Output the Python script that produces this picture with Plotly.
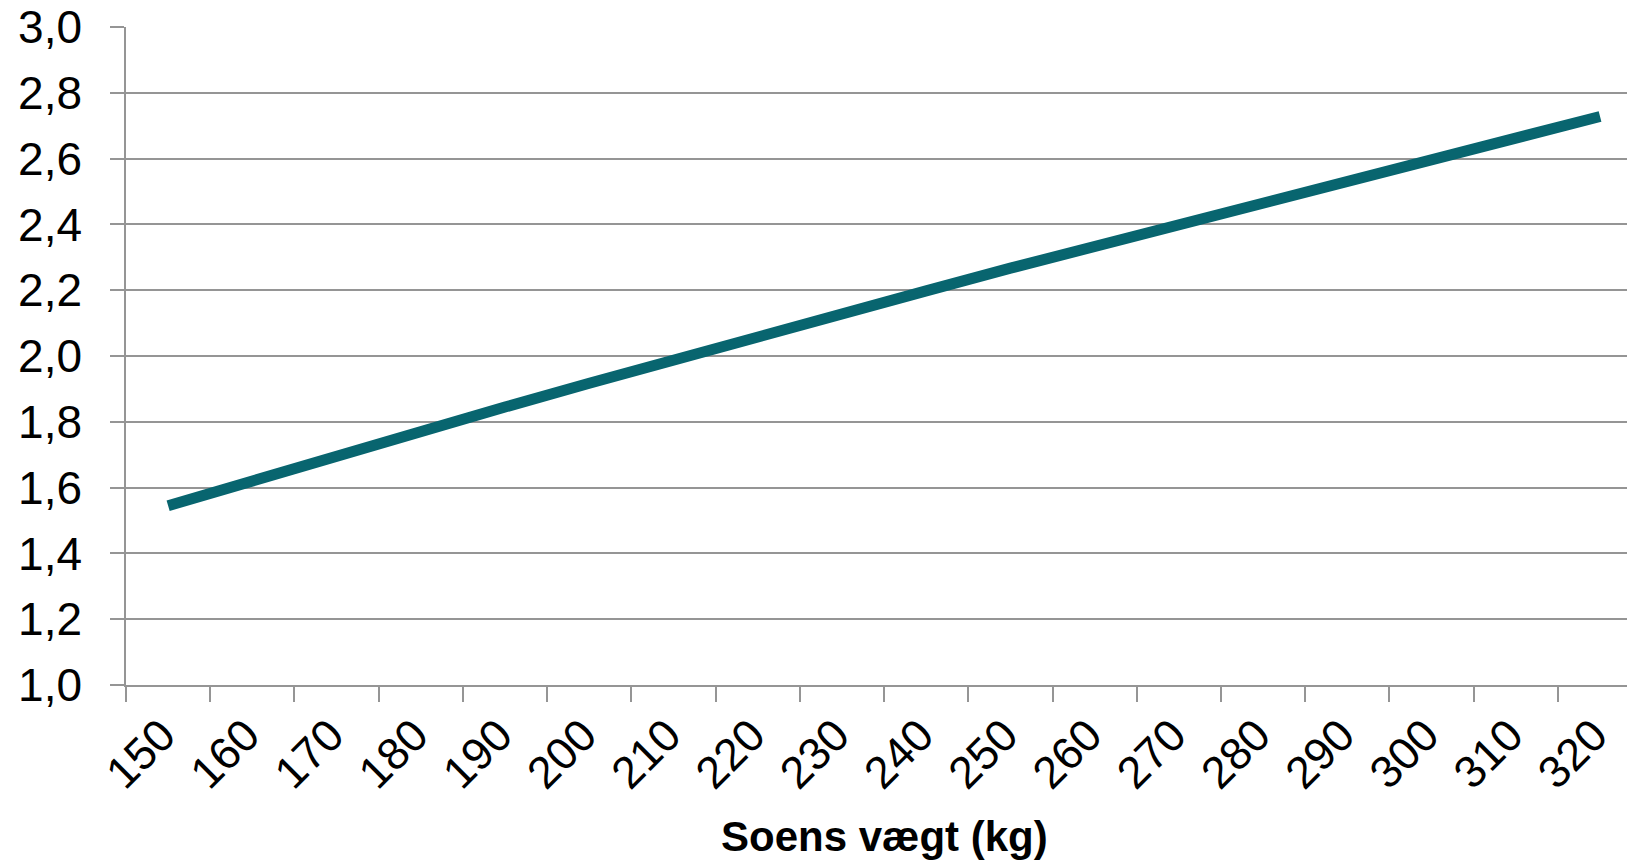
import plotly.graph_objects as go

# Data
weights = ["150", "160", "170", "180", "190", "200", "210", "220", "230",
           "240", "250", "260", "270", "280", "290", "300", "310", "320"]
values = [1.545, 1.622, 1.697, 1.771, 1.845, 1.917, 1.989, 2.059, 2.129,
          2.198, 2.267, 2.334, 2.401, 2.468, 2.533, 2.599, 2.663, 2.728]
y_ticks = [1.0, 1.2, 1.4, 1.6, 1.8, 2.0, 2.2, 2.4, 2.6, 2.8, 3.0]
y_tick_text = ["1,0", "1,2", "1,4", "1,6", "1,8", "2,0", "2,2", "2,4", "2,6", "2,8", "3,0"]
x_title = "Soens vægt (kg)"

FONT = "Liberation Sans, Arial, sans-serif"
GRID = "#959595"
LINE = "#08656F"

fig = go.Figure()
fig.add_trace(go.Scatter(
    x=weights, y=values, mode="lines",
    line=dict(color=LINE, width=11),
    hoverinfo="skip", showlegend=False,
))

fig.update_layout(
    width=1627, height=862,
    margin=dict(l=126, r=0, t=27, b=177, pad=0),
    paper_bgcolor="white", plot_bgcolor="white",
    font=dict(family=FONT, size=44, color="black"),
    showlegend=False,
)

fig.update_xaxes(
    type="category",
    categoryorder="array", categoryarray=weights,
    range=[-0.5, 17.32],
    tickson="boundaries",
    ticks="outside", ticklen=15, tickwidth=1.5, tickcolor=GRID,
    showline=True, linecolor=GRID, linewidth=1.5,
    showgrid=False, zeroline=False,
    tickangle=-45,
    ticklabelstandoff=4, ticklabelshift=-6,
    tickfont=dict(family=FONT, size=45, color="black"),
)

fig.update_yaxes(
    range=[1.0, 3.0],
    tickmode="array", tickvals=y_ticks, ticktext=y_tick_text,
    ticks="outside", ticklen=14, tickwidth=1.5, tickcolor=GRID,
    showline=True, linecolor=GRID, linewidth=1.5,
    showgrid=True, gridcolor=GRID, gridwidth=1.5,
    zeroline=False,
    ticklabelstandoff=19,
    tickfont=dict(family=FONT, size=46, color="black"),
)

fig.add_annotation(
    text="<b>" + x_title + "</b>",
    xref="x", yref="paper", x=8.5, y=-0.2296,
    xanchor="center", yanchor="middle",
    showarrow=False,
    font=dict(family=FONT, size=42, color="black"),
)

fig.write_html("out.html", config={"displayModeBar": False},
               post_script="document.body.style.margin='0';")
